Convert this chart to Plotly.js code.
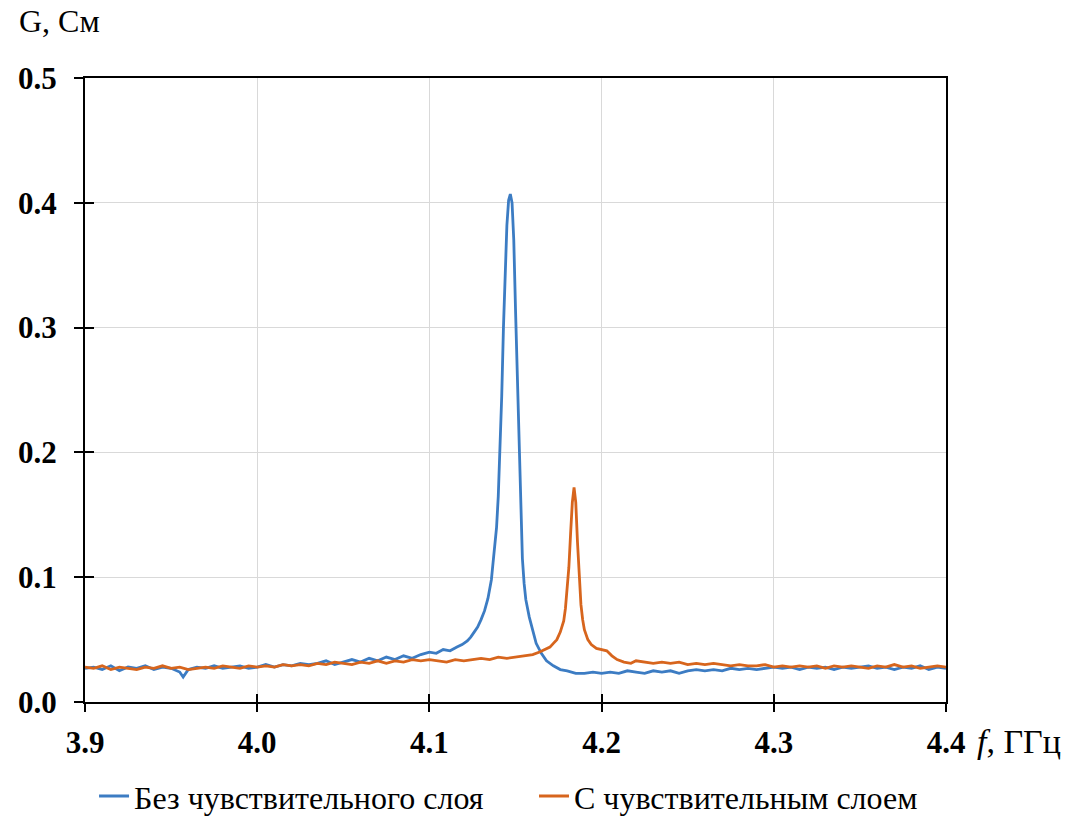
<!DOCTYPE html>
<html>
<head>
<meta charset="utf-8">
<script src="https://cdn.plot.ly/plotly-3.0.1.min.js"></script>
<style>html,body{margin:0;padding:0;background:#fff;}#chart{width:1071px;height:816px;}</style>
</head>
<body>
<div id="chart"></div>
<script>
// Series 1: without sensitive layer (blue)
const blueF = [3.900,3.905,3.910,3.915,3.920,3.925,3.930,3.935,3.940,3.945,3.950,3.955,3.957,3.960,3.965,3.970,3.975,3.980,3.985,3.990,3.995,
4.000,4.005,4.010,4.015,4.020,4.025,4.030,4.035,4.040,4.045,4.050,4.055,4.060,4.065,4.070,4.075,4.080,4.085,4.090,4.095,
4.100,4.104,4.108,4.112,4.116,4.119,4.122,4.124,4.126,4.128,4.130,4.132,4.134,4.136,4.137,4.138,4.139,4.140,4.141,4.142,4.143,4.144,4.145,4.146,4.147,
4.148,4.149,4.150,4.151,4.152,4.153,4.154,4.155,4.156,4.158,4.160,4.162,4.165,4.168,4.172,4.176,4.180,4.185,4.190,4.195,
4.200,4.205,4.210,4.215,4.220,4.225,4.230,4.235,4.240,4.245,4.250,4.255,4.260,4.265,4.270,4.275,4.280,4.285,4.290,4.295,
4.300,4.305,4.310,4.315,4.320,4.325,4.330,4.335,4.340,4.345,4.350,4.355,4.360,4.365,4.370,4.375,4.380,4.385,4.390,4.395,4.400];
const blueG = [0.027,0.028,0.026,0.029,0.025,0.028,0.027,0.029,0.026,0.028,0.027,0.024,0.020,0.026,0.028,0.027,0.029,0.027,0.028,0.029,0.027,
0.028,0.030,0.028,0.030,0.029,0.031,0.030,0.031,0.033,0.030,0.032,0.034,0.032,0.035,0.033,0.036,0.034,0.037,0.035,0.038,
0.040,0.039,0.042,0.041,0.044,0.046,0.049,0.052,0.056,0.060,0.066,0.073,0.083,0.098,0.112,0.128,0.140,0.165,0.198,0.245,0.300,0.345,0.382,0.402,0.407,
0.400,0.370,0.315,0.260,0.205,0.155,0.115,0.095,0.082,0.068,0.057,0.047,0.039,0.033,0.029,0.026,0.025,0.023,0.023,0.024,
0.023,0.024,0.023,0.025,0.024,0.023,0.025,0.024,0.025,0.023,0.025,0.026,0.025,0.026,0.025,0.027,0.026,0.027,0.026,0.027,
0.028,0.027,0.028,0.026,0.028,0.027,0.028,0.026,0.028,0.027,0.028,0.029,0.027,0.028,0.026,0.028,0.027,0.029,0.026,0.028,0.027];

// Series 2: with sensitive layer (orange)
const orangeF = [3.900,3.905,3.910,3.915,3.920,3.925,3.930,3.935,3.940,3.945,3.950,3.955,3.960,3.965,3.970,3.975,3.980,3.985,3.990,3.995,
4.000,4.005,4.010,4.015,4.020,4.025,4.030,4.035,4.040,4.045,4.050,4.055,4.060,4.065,4.070,4.075,4.080,4.085,4.090,4.095,
4.100,4.105,4.110,4.115,4.120,4.125,4.130,4.135,4.140,4.145,4.150,4.155,4.160,4.164,4.167,4.170,4.172,4.174,4.176,4.178,4.179,
4.180,4.181,4.182,4.183,4.184,4.185,4.186,4.187,4.188,4.189,4.190,4.192,4.194,4.197,
4.200,4.203,4.206,4.209,4.213,4.217,4.220,4.225,4.230,4.235,4.240,4.245,4.250,4.255,4.260,4.265,4.270,4.275,4.280,4.285,4.290,4.295,
4.300,4.305,4.310,4.315,4.320,4.325,4.330,4.335,4.340,4.345,4.350,4.355,4.360,4.365,4.370,4.375,4.380,4.385,4.390,4.395,4.400];
const orangeG = [0.028,0.027,0.029,0.026,0.028,0.027,0.026,0.028,0.027,0.029,0.027,0.028,0.026,0.027,0.028,0.027,0.029,0.028,0.027,0.029,
0.028,0.029,0.028,0.030,0.029,0.030,0.029,0.031,0.030,0.032,0.031,0.030,0.032,0.031,0.033,0.031,0.033,0.032,0.034,0.033,
0.034,0.033,0.032,0.034,0.033,0.034,0.035,0.034,0.036,0.035,0.036,0.037,0.038,0.040,0.042,0.044,0.047,0.050,0.056,0.065,0.075,
0.090,0.108,0.135,0.160,0.172,0.160,0.128,0.098,0.078,0.066,0.058,0.050,0.046,0.043,
0.042,0.041,0.037,0.034,0.032,0.031,0.033,0.032,0.031,0.032,0.031,0.032,0.030,0.031,0.030,0.031,0.030,0.029,0.030,0.029,0.029,0.030,
0.028,0.029,0.028,0.029,0.028,0.029,0.027,0.029,0.028,0.029,0.028,0.027,0.029,0.028,0.030,0.028,0.029,0.027,0.028,0.029,0.028];

const seriesNames = ['Без чувствительного слоя', 'С чувствительным слоем'];
const xTicks = [3.9, 4.0, 4.1, 4.2, 4.3, 4.4];
const xTickText = ['3.9', '4.0', '4.1', '4.2', '4.3', '4.4'];
const yTicks = [0, 0.1, 0.2, 0.3, 0.4, 0.5];
const yTickText = ['0.0', '0.1', '0.2', '0.3', '0.4', '0.5'];
const yTitle = 'G, См';
const xTitle = '<i>f</i>, ГГц';

const serif = 'Liberation Serif';

const traces = [
  {x: blueF, y: blueG, type: 'scatter', mode: 'lines', name: seriesNames[0],
   line: {color: '#3c7cc3', width: 2.8}, xaxis: 'x', yaxis: 'y', legend: 'legend'},
  {x: orangeF, y: orangeG, type: 'scatter', mode: 'lines', name: seriesNames[1],
   line: {color: '#d7651d', width: 2.8}, xaxis: 'x2', yaxis: 'y2', legend: 'legend2'}
];

const axBase = {
  showline: false, zeroline: false, showgrid: false, fixedrange: true
};

const legendBase = {
  orientation: 'h', yanchor: 'middle', y: -0.151, xanchor: 'left',
  font: {family: serif, size: 32, color: '#000'},
  itemwidth: 30, bgcolor: 'rgba(0,0,0,0)'
};

const layout = {
  width: 1071, height: 816,
  paper_bgcolor: '#ffffff', plot_bgcolor: '#ffffff',
  margin: {l: 85, r: 125, t: 78, b: 114, autoexpand: false},
  showlegend: true,
  legend: Object.assign({}, legendBase, {x: 0.0105}),
  legend2: Object.assign({}, legendBase, {x: 0.5215}),
  xaxis: {
    range: [3.9, 4.4], tickvals: xTicks, ticktext: xTickText,
    showline: true, linecolor: '#000', linewidth: 2, mirror: true,
    ticks: 'outside', ticklen: 8, tickwidth: 2, tickcolor: '#000',
    showgrid: true, gridcolor: '#d9d9d9', gridwidth: 1, zeroline: false,
    tickfont: {family: serif, size: 31, weight: 'bold', color: '#000'},
    ticklabelstandoff: 4, fixedrange: true
  },
  yaxis: {
    range: [0, 0.5], tickvals: yTicks, ticktext: yTickText,
    showline: true, linecolor: '#000', linewidth: 2, mirror: true,
    ticks: 'outside', ticklen: 9, tickwidth: 2, tickcolor: '#000',
    showgrid: true, gridcolor: '#d9d9d9', gridwidth: 1, zeroline: false,
    tickfont: {family: serif, size: 31, weight: 'bold', color: '#000'},
    ticklabelstandoff: 11, fixedrange: true
  },
  xaxis2: Object.assign({}, axBase, {
    overlaying: 'x', anchor: 'y2', side: 'bottom', range: [3.9, 4.4], tickvals: xTicks,
    showticklabels: false, ticks: 'inside', ticklen: 8, tickwidth: 2, tickcolor: '#000'
  }),
  yaxis2: Object.assign({}, axBase, {
    overlaying: 'y', anchor: 'x2', side: 'left', range: [0, 0.5], tickvals: yTicks,
    showticklabels: false, ticks: 'inside', ticklen: 9, tickwidth: 2, tickcolor: '#000'
  }),
  annotations: [
    {text: yTitle, xref: 'paper', yref: 'paper', x: -0.0785, y: 1.092, xanchor: 'left', yanchor: 'middle',
     showarrow: false, font: {family: serif, size: 32, color: '#000'}},
    {text: xTitle, xref: 'paper', yref: 'paper', x: 1.034, y: -0.0625, xanchor: 'left', yanchor: 'middle',
     showarrow: false, font: {family: serif, size: 34, color: '#000'}}
  ]
};

Plotly.newPlot('chart', traces, layout, {displayModeBar: false, staticPlot: true});
</script>
</body>
</html>
